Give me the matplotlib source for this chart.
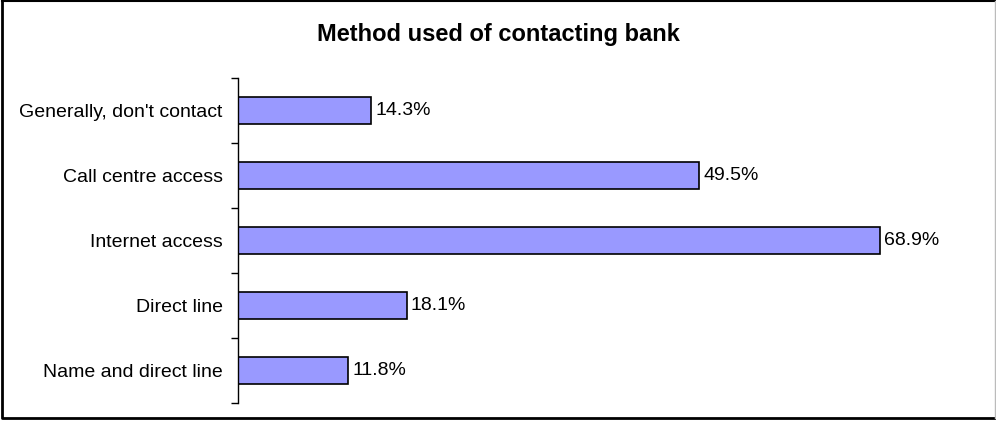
import numpy as np
import matplotlib.pyplot as plt
from matplotlib.lines import Line2D

plt.rcParams['font.family'] = ['Liberation Sans', 'DejaVu Sans']

methods = ["Name and direct line", "Direct line", "Internet access",
           "Call centre access", "Generally, don't contact"]
shares = [11.8, 18.1, 68.9, 49.5, 14.3]

fig = plt.figure(figsize=(9.96, 4.21), dpi=100)
ax = fig.add_axes([0.239, 0.0428, 0.655, 0.772])

y = np.arange(len(methods))
bars = ax.barh(y, shares, height=0.42, color="#9999FF", edgecolor="black", linewidth=1.2)
for b, v in zip(bars, shares):
    ax.text(b.get_width() + 0.45, b.get_y() + b.get_height() / 2, f"{v:.1f}%",
            va="center", ha="left", fontsize=14)

ax.set_xlim(0, 70)
ax.set_ylim(-0.5, len(methods) - 0.5)
ax.set_yticks(y)
ax.set_yticklabels(methods, fontsize=14)
ax.set_yticks(np.arange(len(methods) + 1) - 0.5, minor=True)
ax.tick_params(axis="y", which="major", length=0, pad=11)
ax.tick_params(axis="y", which="minor", length=5, width=1, direction="out")
ax.set_xticks([])
for s in ["top", "right", "bottom"]:
    ax.spines[s].set_visible(False)
ax.spines["left"].set_linewidth(1)

fig.suptitle("Method used of contacting bank", x=0.5, y=0.945, fontsize=17, fontweight="bold")

# chart frame
fig.add_artist(Line2D([0.002, 0.002, 0.999], [0.998, 0.008, 0.008], transform=fig.transFigure, color="black", lw=2))
fig.add_artist(Line2D([0.002, 0.999], [0.997, 0.997], transform=fig.transFigure, color="black", lw=1.5))
fig.add_artist(Line2D([0.9985, 0.9985], [0.008, 0.998], transform=fig.transFigure, color="#bbbbbb", lw=1))

fig.savefig("out.png", dpi=100)
